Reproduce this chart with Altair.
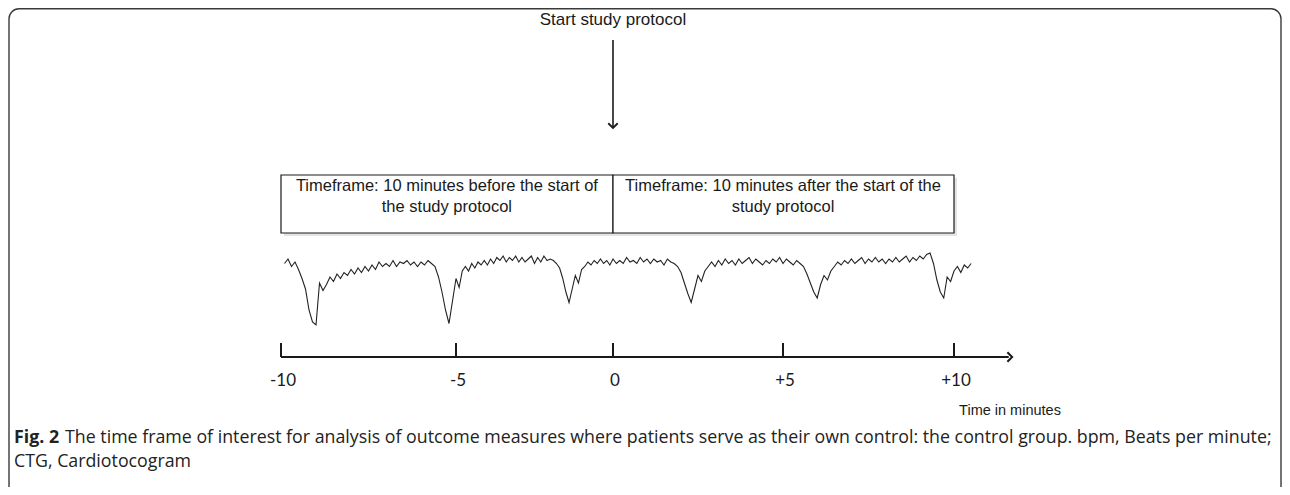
import altair as alt
import pandas as pd

# ---------------- data ----------------
tick_values = [-10, -5, 0, 5, 10]
tick_labels = ["-10", "-5", "0", "+5", "+10"]

box_start = [-10, 0]
box_end = [0, 10]
box_mid = [-5.26, 5]          # middle of each box on the time axis
box_text = [
    "Timeframe: 10 minutes before the start of\nthe  study protocol",
    "Timeframe: 10 minutes after the start of the\nstudy protocol",
]

start_label = "Start study protocol"
start_time = [0]
axis_from = [-10]
axis_to = [11.6]
axis_arrow = [11.7]
x_title = "Time in minutes"

caption_bold = "Fig. 2"
caption_line1 = ("The time frame of interest for analysis of outcome measures where patients "
                 "serve as their own control: the control group. bpm, Beats per minute;")
caption_line2 = "CTG, Cardiotocogram"

# CTG trace (minutes, bpm) read every 0.1 min from -9.9
trace_t0 = -9.9
trace_dt = 0.1
fhr_bpm = [
    141, 144, 139, 142, 137, 131, 124, 110, 102, 100,   # -9.9 .. -9.0
    128, 123, 127, 132, 129, 134, 131, 135, 133, 137,   # -8.9 .. -8.0
    134, 138, 135, 139, 136, 140, 137, 142, 139, 141,   # -7.9 .. -7.0
    139, 143, 139, 142, 141, 143, 140, 142, 139, 142,   # -6.9 .. -6.0
    140, 143, 141, 139, 132, 122, 110, 101, 116, 131,   # -5.9 .. -5.0
    125, 136, 139, 136, 141, 138, 142, 140, 143, 140,   # -4.9 .. -4.0
    144, 141, 145, 143, 146, 142, 145, 143, 146, 142,   # -3.9 .. -3.0
    145, 142, 144, 146, 141, 145, 142, 146, 143, 144,   # -2.9 .. -2.0
    143, 141, 138, 131, 122, 115, 124, 133, 128, 137,   # -1.9 .. -1.0
    139, 142, 140, 143, 141, 144, 141, 143, 140, 144,   # -0.9 .. 0.0
    141, 143, 141, 145, 142, 143, 141, 145, 142, 144,   #  0.1 .. 1.0
    141, 144, 142, 143, 140, 144, 142, 141, 139, 135,   #  1.1 .. 2.0
    128, 121, 115, 124, 133, 129, 136, 139, 142, 139,   #  2.1 .. 3.0
    143, 140, 144, 141, 143, 140, 144, 141, 143, 145,   #  3.1 .. 4.0
    141, 144, 142, 140, 143, 141, 144, 142, 145, 141,   #  4.1 .. 5.0
    144, 142, 140, 143, 141, 139, 134, 128, 122, 118,   #  5.1 .. 6.0
    127, 133, 130, 136, 139, 142, 140, 143, 141, 144,   #  6.1 .. 7.0
    141, 143, 145, 141, 144, 142, 145, 142, 144, 141,   #  7.1 .. 8.0
    144, 142, 145, 142, 144, 146, 142, 145, 143, 146,   #  8.1 .. 9.0
    144, 147, 148, 141, 130, 122, 118, 132, 129, 136,   #  9.1 .. 10.0
    139, 135, 140, 138, 141,                            # 10.1 .. 10.5
]

# ---------------- tables ----------------
trace_df = pd.DataFrame({
    "t": [round(trace_t0 + trace_dt * i, 2) for i in range(len(fhr_bpm))],
    "bpm": fhr_bpm,
})
ticks_df = pd.DataFrame({"tick": tick_values, "label": tick_labels})
boxes_df = pd.DataFrame({"start": box_start, "end": box_end,
                         "mid": box_mid, "text": box_text})
start_df = pd.DataFrame({"x": start_time, "label": [start_label]})
axis_df = pd.DataFrame({"x0": axis_from, "x1": axis_to})
arrow_df = pd.DataFrame({"x": axis_arrow})

W, H = 1274, 479
INK = "#1a1a1a"

xscale = alt.Scale(domain=[-10, -5, 0, 5, 10], range=[273, 448, 605, 775, 946],
                   nice=False, zero=False)


def X(field):
    return alt.X(field, type="quantitative", scale=xscale, axis=None)


frame = alt.Chart(start_df).mark_rect(
    fillOpacity=0, stroke="#3a3a3a", strokeWidth=1.4, cornerRadius=10, clip=True
).encode(x=alt.value(1), x2=alt.value(W - 1), y=alt.value(0.7), y2=alt.value(H + 60))

start_text = alt.Chart(start_df).mark_text(
    font="Liberation Sans", fontSize=17, color=INK, baseline="middle", align="center"
).encode(x=X("x"), y=alt.value(12), text="label:N")

down_line = alt.Chart(start_df).mark_rule(color=INK, strokeWidth=1.6).encode(
    x=X("x"), y=alt.value(32), y2=alt.value(120))
down_head = alt.Chart(start_df).mark_point(
    shape="M-1,-1L0,0L1,-1", filled=False, size=90, strokeWidth=1.8, color=INK, opacity=1
).encode(x=X("x"), y=alt.value(120))

box_shadow = alt.Chart(boxes_df).mark_rect(
    color="#d9d9d9", opacity=0.7, xOffset=3, x2Offset=3, yOffset=3, y2Offset=3
).encode(x=X("start"), x2="end", y=alt.value(167), y2=alt.value(225))
boxes = alt.Chart(boxes_df).mark_rect(
    fill="white", stroke=INK, strokeWidth=1.2
).encode(x=X("start"), x2="end", y=alt.value(167), y2=alt.value(225))
box_labels = alt.Chart(boxes_df).mark_text(
    font="Liberation Sans", fontSize=16.5, color=INK, lineBreak="\n", lineHeight=21,
    align="center", baseline="middle"
).encode(x=X("mid"), y=alt.value(178), text="text:N")

trace = alt.Chart(trace_df).mark_line(color="#222222", strokeWidth=1.1).encode(
    x=X("t"),
    y=alt.Y("bpm", type="quantitative",
            scale=alt.Scale(domain=[100, 160], range=[317, 227], nice=False, zero=False),
            axis=None),
)

axis_line = alt.Chart(axis_df).mark_rule(color=INK, strokeWidth=2).encode(
    x=X("x0"), x2="x1", y=alt.value(349))
axis_ticks = alt.Chart(ticks_df).mark_rule(color=INK, strokeWidth=2).encode(
    x=X("tick"), y=alt.value(335), y2=alt.value(349))
axis_head = alt.Chart(arrow_df).mark_point(
    shape="M-1,-1L0,0L-1,1", filled=False, size=90, strokeWidth=2, color=INK, opacity=1
).encode(x=X("x"), y=alt.value(349))
tick_text = alt.Chart(ticks_df).mark_text(
    font="Lato", fontSize=17, color=INK, align="center", baseline="middle", dx=2
).encode(x=X("tick"), y=alt.value(373), text="label:N")

xtitle = alt.Chart(start_df).mark_text(
    font="Liberation Sans", fontSize=14.5, color=INK, align="center", baseline="middle",
    text=x_title
).encode(x=alt.value(1002), y=alt.value(403))

CAP_FONT = "Open Sans"
CAP_SIZE = 17.8
cap_bold = alt.Chart(start_df).mark_text(
    font=CAP_FONT, fontSize=CAP_SIZE, fontWeight="bold", color="#222222", align="left",
    baseline="middle", text=caption_bold
).encode(x=alt.value(6), y=alt.value(430))
cap_1 = alt.Chart(start_df).mark_text(
    font=CAP_FONT, fontSize=CAP_SIZE, color="#222222", align="left", baseline="middle",
    text=caption_line1
).encode(x=alt.value(57), y=alt.value(430))
cap_2 = alt.Chart(start_df).mark_text(
    font=CAP_FONT, fontSize=CAP_SIZE, color="#222222", align="left", baseline="middle",
    text=caption_line2
).encode(x=alt.value(6), y=alt.value(454))

chart = alt.layer(
    frame, start_text, down_line, down_head, box_shadow, boxes, box_labels, trace,
    axis_line, axis_ticks, axis_head, tick_text, xtitle, cap_bold, cap_1, cap_2,
).properties(
    width=W, height=H, padding=0, autosize=alt.AutoSizeParams(type="none")
).configure_view(stroke=None)

chart.save("out.html", embed_options={"renderer": "svg", "actions": False})
